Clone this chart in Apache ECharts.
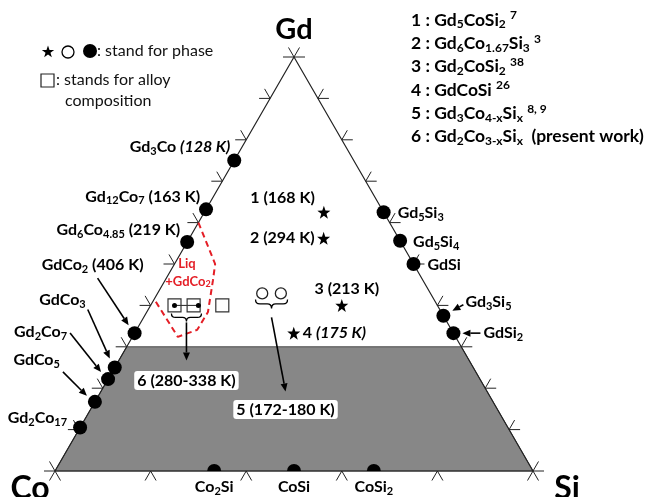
<!DOCTYPE html>
<html>
<head>
<meta charset="utf-8">
<title>Gd–Co–Si ternary</title>
<script src="https://cdn.jsdelivr.net/npm/echarts@6/dist/echarts.min.js"></script>
<style>
  html, body { margin: 0; padding: 0; background: #fff; }
  #chart { width: 650px; height: 497px; }
</style>
</head>
<body>
<div id="chart"></div>
<script>
// ---- compositions as atomic fractions; Co = 1 - Gd - Si ----
// Gd–Co binary compounds
const gdCoLabels = ['Gd{s|3}Co {i|(128 K)}', 'Gd{s|12}Co{s|7} (163 K)', 'Gd{s|6}Co{s|4.85} (219 K)',
  'GdCo{s|2} (406 K)', 'GdCo{s|3}', 'Gd{s|2}Co{s|7}', 'GdCo{s|5}', 'Gd{s|2}Co{s|17}'];
const gdCoGd = [0.75, 0.632, 0.553, 0.333, 0.25, 0.222, 0.167, 0.105];
// Gd–Si binary compounds
const gdSiLabels = ['Gd{s|5}Si{s|3}', 'Gd{s|5}Si{s|4}', 'GdSi', 'Gd{s|3}Si{s|5}', 'GdSi{s|2}'];
const gdSiGd = [0.625, 0.556, 0.5, 0.375, 0.333];
// Co–Si binary compounds
const coSiLabels = ['Co{s|2}Si', 'CoSi', 'CoSi{s|2}'];
const coSiSi = [0.333, 0.5, 0.667];
// ternary compounds 1–4 with transition temperatures
const ternLabels = ['1 (168 K)', '2 (294 K)', '3 (213 K)', '4 {i|(175 K)}'];
const ternGd = [0.625, 0.562, 0.4, 0.333];
const ternSi = [0.25, 0.281, 0.4, 0.333];
// Gd3Co4-xSix (phase 5)
const phase5Gd = [0.429, 0.429];
const phase5Si = [0.219, 0.258];
const phase5Label = '5 (172-180 K)';
// Gd2Co3-xSix (phase 6) and the alloy compositions
const phase6Gd = [0.4, 0.4];
const phase6Si = [0.05, 0.10];
const phase6Label = '6 (280-338 K)';
const alloyGd = [0.4, 0.4, 0.4];
const alloySi = [0.05, 0.09, 0.15];
// Liq + GdCo2 field boundary
const liqGd = [0.6, 0.5, 0.461, 0.384, 0.341, 0.324, 0.415];
const liqSi = [0, 0.085, 0.1, 0.128, 0.127, 0.095, 0];
// shaded band (Gd content up to this fraction)
const shadedGdMax = 0.3;
// tick fractions along the edges
const sideTicks = [0.1, 0.2, 0.3, 0.4, 0.5, 0.6, 0.7, 0.8, 0.9];
const baseTicks = [0.2, 0.4, 0.6, 0.8];
// reference list
const refList = [
  '1 : Gd{s|5}CoSi{s|2} {p|7}',
  '2 : Gd{s|6}Co{s|1.67}Si{s|3} {p|3}',
  '3 : Gd{s|2}CoSi{s|2} {p|38}',
  '4 : GdCoSi {p|26}',
  '5 : Gd{s|3}Co{s|4-x}Si{s|x} {p|8, 9}',
  '6 : Gd{s|2}Co{s|3-x}Si{s|x}  (present work)'
];

// ---- label / annotation layout (pixel offsets from the marks) ----
const gdCoLabelPos = [[-4, -14, 'right'], [-6, -13, 'right'], [-7, -12, 'right'], [9, -68, 'right'],
  [-29, -68, 'right'], [-41, -47, 'right'], [-35, -42, 'right'], [-13, -10, 'right']];
const gdSiLabelPos = [[14, 1, 'left'], [13, 1, 'left'], [14, 1, 'left'], [22, -14, 'left'], [30, 0, 'left']];
const ternLabelPos = [[-9, -14, 'right'], [-9, 0, 'right'], [5, -17, 'center'], [9, 0, 'left']];
// pointer arrows: [gd, si, tailDx, tailDy, headDx, headDy]
const pointerArrows = [
  [gdCoGd[3], 0, -37, -55, -6, -8],
  [gdCoGd[4], 0, -27, -58, -5, -9],
  [gdCoGd[5], 0, -38, -46, -7, -7],
  [gdCoGd[6], 0, -32, -30, -8, -6],
  [gdSiGd[3], 1 - gdSiGd[3], 20, -11, 9, -5],
  [gdSiGd[4], 1 - gdSiGd[4], 27, 0, 9, 0]
];

const H = Math.sqrt(3) / 2;
const toXY = (gd, si) => [si + gd / 2, gd * H];
const mean = a => a.reduce((s, v) => s + v, 0) / a.length;

const FONT = 'Lato, "Open Sans", sans-serif';
const INK = '#000';
const RED = '#e41e26';
const STAR_PTS = [[0, -10], [2.35, -3.24], [9.51, -3.09], [3.8, 1.24], [5.88, 8.09], [0, 4], [-5.88, 8.09], [-3.8, 1.24], [-9.51, -3.09], [-2.35, -3.24]];
const STAR = 'path://M' + STAR_PTS.map(p => p.join(',')).join(' L') + ' Z';
const HALF_DOT = 'path://M0,10 A10,10 0 0 1 20,10 Z';

const richParts = (size) => ({
  s: { fontSize: Math.round(size * 0.66), lineHeight: 10, verticalAlign: 'bottom', fontWeight: 'bold', fontFamily: FONT, color: INK },
  p: { fontSize: Math.round(size * 0.66), lineHeight: 10, verticalAlign: 'top', fontWeight: 'bold', fontFamily: FONT, color: INK },
  i: { fontSize: size, fontStyle: 'italic', fontWeight: 'bold', fontFamily: FONT, color: INK }
});
const LBL = 16;
const labelBase = {
  show: true, position: 'inside', color: INK, fontFamily: FONT, fontWeight: 'bold',
  fontSize: LBL, lineHeight: 20, verticalAlign: 'middle', rich: richParts(LBL)
};
const labelled = (xy, text, pos) => ({
  value: xy,
  label: Object.assign({}, labelBase, { formatter: text, offset: [pos[0], pos[1]], align: pos[2] })
});

// tick glyph directions (pixel space, y down)
const c = 0.5, s3 = H;
const TICK_DIRS = [
  [[-1, 0], [-c, -s3]],                       // 0: Co–Gd edge
  [[1, 0], [c, -s3]],                         // 1: Si–Gd edge
  [[-c, s3], [c, s3]],                        // 2: Co–Si edge
  [[-1, 0], [1, 0], [-c, -s3], [c, -s3]],     // 3: Gd corner
  [[-1, 0], [-c, s3], [c, s3], [-c, -s3]],    // 4: Co corner
  [[1, 0], [-c, s3], [c, s3], [c, -s3]]       // 5: Si corner
];
const tickData = [];
sideTicks.forEach(f => { tickData.push([f, 0, 0]); tickData.push([f, 1 - f, 1]); });
baseTicks.forEach(f => tickData.push([0, f, 2]));
tickData.push([1, 0, 3], [0, 0, 4], [0, 1, 5]);

function arrowShapes(x1, y1, x2, y2, color) {
  const dx = x2 - x1, dy = y2 - y1, len = Math.hypot(dx, dy) || 1;
  const ux = dx / len, uy = dy / len, hl = 8, hw = 3.5;
  const bx = x2 - ux * hl, by = y2 - uy * hl;
  return [
    { type: 'line', shape: { x1, y1, x2: bx, y2: by }, style: { stroke: color, lineWidth: 1.6 } },
    { type: 'polygon', shape: { points: [[x2, y2], [bx - uy * hw, by + ux * hw], [bx + uy * hw, by - ux * hw]] }, style: { fill: color } }
  ];
}
function braceShape(cx, top, w, h) {
  return {
    type: 'path',
    shape: { pathData: 'M0,0 Q0,4 4,4 L11,4 Q15,4 15,8 Q15,4 19,4 L26,4 Q30,4 30,0', x: cx - w / 2, y: top, width: w, height: h, layout: 'cover' },
    style: { fill: 'none', stroke: INK, lineWidth: 1.3 }
  };
}

// groups: brace under the marks, arrow down to a boxed label
const phaseGroups = [
  { gd: mean(phase6Gd), si: mean(phase6Si), label: phase6Label, brace: [0, 8, 30, 8], arrow: [0, 17, 0, 55], box: [0, 75] },
  { gd: mean(phase5Gd), si: mean(phase5Si), label: phase5Label, brace: [0, 6, 32, 9], arrow: [0, 24, 14, 98], box: [14, 116] }
];

const solid = { opacity: 1 };
const chart = echarts.init(document.getElementById('chart'));
chart.setOption({
  animation: false,
  backgroundColor: '#fff',
  textStyle: { fontFamily: FONT },
  grid: { left: 55, top: 57, width: 478, height: 414 },
  xAxis: { type: 'value', min: 0, max: 1, show: false },
  yAxis: { type: 'value', min: 0, max: H, show: false },
  series: [
    { // shaded band
      type: 'custom', clip: false, silent: true, z: 1,
      data: [[shadedGdMax]],
      renderItem: (params, api) => {
        const g = api.value(0);
        const pts = [toXY(0, 0), toXY(0, 1), toXY(g, 1 - g), toXY(g, 0)].map(p => api.coord(p));
        return { type: 'polygon', shape: { points: pts }, style: { fill: '#878787', stroke: '#4a4a4a', lineWidth: 1 } };
      }
    },
    { // triangle outline
      type: 'line', clip: false, silent: true, symbol: 'none', z: 2,
      data: [toXY(0, 0), toXY(0, 1), toXY(1, 0), toXY(0, 0)],
      lineStyle: { color: '#222', width: 1.2 }
    },
    { // tick glyphs
      type: 'custom', clip: false, silent: true, z: 2,
      data: tickData,
      renderItem: (params, api) => {
        const p = api.coord(toXY(api.value(0), api.value(1)));
        const L = 11;
        return {
          type: 'group',
          children: TICK_DIRS[api.value(2)].map(d => ({
            type: 'line', shape: { x1: p[0], y1: p[1], x2: p[0] + d[0] * L, y2: p[1] + d[1] * L },
            style: { stroke: '#222', lineWidth: 1 }
          }))
        };
      }
    },
    { // Liq + GdCo2 boundary
      type: 'line', clip: false, silent: true, symbol: 'none', z: 3,
      data: liqGd.map((g, i) => toXY(g, liqSi[i])),
      lineStyle: { color: RED, width: 2, type: [6, 4] }
    },
    { // phase 6 tie line between measured points
      type: 'line', clip: false, silent: true, symbol: 'none', z: 3,
      data: phase6Gd.map((g, i) => toXY(g, phase6Si[i])),
      lineStyle: { color: '#222', width: 1 }
    },
    { // alloy compositions
      type: 'scatter', clip: false, silent: true, z: 4,
      symbol: 'rect', symbolSize: 13,
      itemStyle: { color: 'rgba(0,0,0,0)', borderColor: '#333', borderWidth: 1.2, opacity: 1 },
      data: alloyGd.map((g, i) => toXY(g, alloySi[i]))
    },
    { // phase 6 points
      type: 'scatter', clip: false, silent: true, z: 5,
      symbol: 'circle', symbolSize: 5, itemStyle: { color: INK, opacity: 1 },
      data: phase6Gd.map((g, i) => toXY(g, phase6Si[i]))
    },
    { // phase 5 points
      type: 'scatter', clip: false, silent: true, z: 5,
      symbol: 'circle', symbolSize: 11,
      itemStyle: { color: '#fff', borderColor: '#222', borderWidth: 1.3, opacity: 1 },
      data: phase5Gd.map((g, i) => toXY(g, phase5Si[i]))
    },
    { // Gd–Co compounds
      type: 'scatter', clip: false, silent: true, z: 5,
      symbol: 'circle', symbolSize: 14, itemStyle: { color: '#000', opacity: 1 },
      data: gdCoGd.map((g, i) => labelled(toXY(g, 0), gdCoLabels[i], gdCoLabelPos[i]))
    },
    { // Gd–Si compounds
      type: 'scatter', clip: false, silent: true, z: 5,
      symbol: 'circle', symbolSize: 14, itemStyle: { color: '#000', opacity: 1 },
      data: gdSiGd.map((g, i) => labelled(toXY(g, 1 - g), gdSiLabels[i], gdSiLabelPos[i]))
    },
    { // Co–Si compounds
      type: 'scatter', clip: false, silent: true, z: 5,
      symbol: HALF_DOT, symbolSize: [14, 7], symbolOffset: [0, -3.5], symbolKeepAspect: false,
      itemStyle: { color: '#000', opacity: 1 },
      data: coSiSi.map((v, i) => labelled(toXY(0, v), coSiLabels[i], [0, 19, 'center']))
    },
    { // ternary compounds 1–4
      type: 'scatter', clip: false, silent: true, z: 5,
      symbol: STAR, symbolSize: 13, itemStyle: { color: '#000', opacity: 1 },
      data: ternGd.map((g, i) => labelled(toXY(g, ternSi[i]), ternLabels[i], ternLabelPos[i]))
    },
    { // corner labels
      type: 'scatter', clip: false, silent: true, z: 5, symbolSize: 0, itemStyle: solid,
      data: [
        { value: toXY(1, 0), label: { show: true, position: 'inside', formatter: 'Gd', offset: [0, -27], fontSize: 29, fontWeight: 'bold', color: '#000', fontFamily: FONT } },
        { value: toXY(0, 0), label: { show: true, position: 'inside', formatter: 'Co', offset: [-25, 18], fontSize: 32, fontWeight: 'bold', color: '#000', fontFamily: FONT } },
        { value: toXY(0, 1), label: { show: true, position: 'inside', formatter: 'Si', offset: [34, 18], fontSize: 32, fontWeight: 'bold', color: '#000', fontFamily: FONT } }
      ]
    },
    { // pointer arrows to compounds
      type: 'custom', clip: false, silent: true, z: 6,
      data: pointerArrows,
      renderItem: (params, api) => {
        const p = api.coord(toXY(api.value(0), api.value(1)));
        return {
          type: 'group',
          children: arrowShapes(p[0] + api.value(2), p[1] + api.value(3), p[0] + api.value(4), p[1] + api.value(5), INK)
        };
      }
    },
    { // braces, arrows and boxed labels for phases 5 and 6
      type: 'custom', clip: false, silent: true, z: 7,
      data: phaseGroups.map((g, i) => [g.gd, g.si, i]),
      renderItem: (params, api) => {
        const grp = phaseGroups[api.value(2)];
        const p = api.coord(toXY(api.value(0), api.value(1)));
        const b = grp.brace, a = grp.arrow;
        return {
          type: 'group',
          children: [
            braceShape(p[0] + b[0], p[1] + b[1], b[2], b[3]),
            ...arrowShapes(p[0] + a[0], p[1] + a[1], p[0] + a[2], p[1] + a[3], INK),
            {
              type: 'text', z2: 10,
              style: {
                text: grp.label, x: p[0] + grp.box[0], y: p[1] + grp.box[1],
                align: 'center', verticalAlign: 'middle',
                font: 'bold 16px ' + FONT, fill: INK,
                backgroundColor: '#fff', padding: [2, 3, 1, 3], borderRadius: 3
              }
            }
          ]
        };
      }
    }
  ],
  graphic: [
    // field label
    { type: 'text', x: 187, y: 264, z: 10, style: { text: 'Liq', font: 'bold 13px ' + FONT, fill: RED, align: 'center', verticalAlign: 'middle' } },
    { type: 'text', x: 188, y: 282, z: 10, style: {
      text: '+GdCo{s|2}', font: 'bold 13px ' + FONT, fill: RED, align: 'center', verticalAlign: 'middle',
      rich: { s: { fontSize: 9, lineHeight: 8, verticalAlign: 'bottom', fontWeight: 'bold', fontFamily: FONT, fill: RED } } } },
    // symbol key
    { type: 'polygon', shape: { points: STAR_PTS.map(p => [48 + p[0] * 0.65, 52 + p[1] * 0.65]) }, style: { fill: '#000' } },
    { type: 'circle', shape: { cx: 68, cy: 52, r: 6 }, style: { fill: '#fff', stroke: '#000', lineWidth: 1.3 } },
    { type: 'circle', shape: { cx: 90, cy: 51, r: 7 }, style: { fill: '#000' } },
    { type: 'text', x: 97, y: 51, style: { text: ': stand for phase', font: '16px ' + FONT, fill: '#111', verticalAlign: 'middle' } },
    { type: 'rect', shape: { x: 41, y: 74, width: 13, height: 13 }, style: { fill: '#fff', stroke: '#222', lineWidth: 1.2 } },
    { type: 'text', x: 56, y: 80, style: { text: ': stands for alloy', font: '16px ' + FONT, fill: '#111', verticalAlign: 'middle' } },
    { type: 'text', x: 65, y: 101, style: { text: 'composition', font: '16px ' + FONT, fill: '#111', verticalAlign: 'middle' } },
    // reference list
    ...refList.map((t, i) => ({
      type: 'text', x: 411, y: 20 + i * 23.3,
      style: {
        text: t, font: 'bold 17.5px ' + FONT, fill: INK, verticalAlign: 'middle', lineHeight: 21,
        rich: {
          s: { fontSize: 12, lineHeight: 10, verticalAlign: 'bottom', fontWeight: 'bold', fontFamily: FONT, fill: INK },
          p: { fontSize: 12, lineHeight: 10, verticalAlign: 'top', fontWeight: 'bold', fontFamily: FONT, fill: INK }
        }
      }
    }))
  ]
});
</script>
</body>
</html>
